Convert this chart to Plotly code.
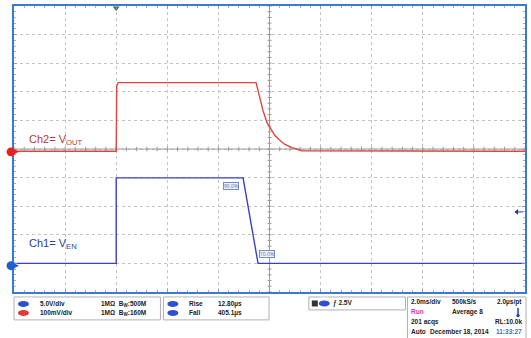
import numpy as np
import plotly.graph_objects as go

# screen units: x in divisions from left edge, y in divisions from centre
ch2_t = [0, 2.0, 2.01, 2.04, 4.737, 4.795, 4.873, 4.951, 5.029, 5.107, 5.185, 5.302, 5.439, 5.634, 10]
ch2_v = [-0.08, -0.08, 2.2, 2.32, 2.32, 1.86, 1.34, 0.92, 0.68, 0.47, 0.33, 0.16, 0.05, -0.06, -0.08]

ch1_t = [0, 2.0, 2.0, 4.483, 4.776, 10]
ch1_v = [-4.0, -4.0, -1.01, -1.01, -4.0, -4.0]

ch1_offset = -4.08
ch2_offset = -0.1
trig_pos = 2.0
trig_level = -2.2

ch_rows = [("5.0V/div", "1MΩ  B<sub>W</sub>:500M", "#2f4fd0"),
           ("100mV/div", "1MΩ  B<sub>W</sub>:160M", "#e03a3a")]
meas_rows = [("Rise", "12.80µs"), ("Fall", "405.1µs")]
acq_rows = [("2.0ms/div", "500kS/s", "2.0µs/pt"),
            ("Run", "Average 8", ""),
            ("201 acqs", "", "RL:10.0k"),
            ("Auto", "December 18, 2014", "11:33:27")]

W, H = 531, 338
L, R, T, B = 14, 527, 5, 292
RED = "#dc4540"
BLUE = "#3a3fc8"
FRAME = "#3a78dc"


def pxx(x):
    return (x - L) / (R - L)


def pxy(y):
    return (B - y) / (B - T)


def divy(v):
    # screen divisions -> paper y
    return (v + 5) / 10


fig = go.Figure()

# centre cross with tick marks
tx, ty = [0, 10, None, 5, 5, None], [0, 0, None, -5, 5, None]
for v in np.arange(0, 10.01, 0.2):
    tx += [v, v, None]
    ty += [-0.08, 0.08, None]
for v in np.arange(-5, 5.01, 0.2):
    tx += [4.96, 5.04, None]
    ty += [v, v, None]
fig.add_trace(go.Scatter(x=tx, y=ty, mode="lines", line=dict(color="#9a9a9a", width=1),
                         hoverinfo="skip", showlegend=False))

fig.add_trace(go.Scatter(x=ch2_t, y=ch2_v, mode="lines", line=dict(color=RED, width=1.4),
                         showlegend=False))
fig.add_trace(go.Scatter(x=ch1_t, y=ch1_v, mode="lines", line=dict(color=BLUE, width=1.4),
                         showlegend=False))

# channel ground markers (paper shapes so they sit over the frame)
for off, col in [(ch2_offset, "#e8201e"), (ch1_offset, "#1f5fd0")]:
    yc = divy(off)
    dy = 4.5 / (B - T)
    fig.add_shape(type="circle", xref="paper", yref="paper", x0=pxx(6.5), x1=pxx(15.5),
                  y0=yc - dy, y1=yc + dy, fillcolor=col, line=dict(width=0))
    fig.add_shape(type="path", xref="paper", yref="paper",
                  path="M %f %f L %f %f L %f %f Z" % (pxx(15), yc + 2 / (B - T), pxx(15), yc - 2 / (B - T),
                                                      pxx(19), yc),
                  fillcolor=col, line=dict(width=0))

# trigger position and level
fig.add_trace(go.Scatter(x=[trig_pos], y=[4.93], mode="markers",
                         marker=dict(size=6, symbol="triangle-down", color="#2c7a40"),
                         cliponaxis=False, showlegend=False))
fig.add_trace(go.Scatter(x=[9.84, 9.96], y=[trig_level, trig_level], mode="lines",
                         line=dict(color="#2a3a8a", width=1), showlegend=False))
fig.add_trace(go.Scatter(x=[9.84], y=[trig_level], mode="markers",
                         marker=dict(size=5, symbol="triangle-left", color="#2a3a8a"),
                         showlegend=False))

fig.add_annotation(x=0.25, y=0.3, text="Ch2= V<sub>OUT</sub>", showarrow=False, xanchor="left",
                   yanchor="middle", font=dict(size=11, color="#b83a34", family="Liberation Sans"))
fig.add_annotation(x=0.25, y=-3.33, text="Ch1= V<sub>EN</sub>", showarrow=False, xanchor="left",
                   yanchor="middle", font=dict(size=11, color="#2d3f94", family="Liberation Sans"))
for x, y, t in [(4.25, -1.31, "90.0%"), (4.95, -3.68, "10.0%")]:
    fig.add_annotation(x=x, y=y, text=t, showarrow=False, font=dict(size=5, color="#4a6aa0"),
                       bgcolor="#eef4ff", bordercolor="#6f8fc0", borderwidth=1, borderpad=0)

# status panels
box = dict(type="rect", xref="paper", yref="paper", line=dict(color="#b0b0b0", width=1),
           fillcolor="white", layer="below")
for x0, y0, x1, y1 in [(14, 297, 161, 320), (164, 297, 270, 320), (310, 297, 407, 310), (409, 297, 528, 340)]:
    fig.add_shape(x0=pxx(x0), y0=pxy(y0), x1=pxx(x1), y1=pxy(y1), **box)

fs = dict(size=6.5, color="#222222", family="Liberation Sans")


def txt(x, y, s, color=None, anchor="left"):
    if not s:
        return
    f = dict(fs)
    if color:
        f["color"] = color
    fig.add_annotation(x=pxx(x), y=pxy(y), xref="paper", yref="paper", text="<b>" + s + "</b>",
                       showarrow=False, xanchor=anchor, yanchor="middle", font=f)


def oval(x, y, color, label):
    fig.add_shape(type="circle", xref="paper", yref="paper", x0=pxx(x), x1=pxx(x + 11),
                  y0=pxy(y - 3), y1=pxy(y + 3), fillcolor=color, line=dict(width=0))
    fig.add_annotation(x=pxx(x + 5.5), y=pxy(y), xref="paper", yref="paper", text=label,
                       showarrow=False, font=dict(size=4.5, color="white"))


for i, (a, b, c) in enumerate(ch_rows):
    y = 304 + i * 9
    oval(18, y, c, "Ch%d" % (i + 1))
    txt(38, y, a)
    txt(99, y, b)
for i, (a, b) in enumerate(meas_rows):
    y = 304 + i * 9
    oval(168, y, "#2f4fd0", "Ch1")
    txt(188, y, a)
    txt(217, y, b)

fig.add_shape(type="rect", xref="paper", yref="paper", x0=pxx(313), x1=pxx(319),
              y0=pxy(300.5), y1=pxy(306.5), fillcolor="#333333", line=dict(width=0))
oval(320, 303.5, "#2f4fd0", "Ch1")
txt(332, 303.5, "ƒ 2.5V")

for i, (a, b, c) in enumerate(acq_rows):
    y = 302 + i * 10
    if i == 1:
        txt(411, y, a, color="#d040a0")
    else:
        txt(411, y, a)
    if i == 3:
        txt(430, y, b)
        txt(526, y, c, color="#4a70c0", anchor="right")
    else:
        txt(452, y, b)
        txt(526, y, c, anchor="right")
# thermometer icon
fig.add_shape(type="line", xref="paper", yref="paper", x0=pxx(520), x1=pxx(520),
              y0=pxy(308), y1=pxy(315), line=dict(color="#2040a0", width=1.5))
fig.add_shape(type="circle", xref="paper", yref="paper", x0=pxx(518.3), x1=pxx(521.7),
              y0=pxy(314), y1=pxy(317.4), fillcolor="#2040a0", line=dict(width=0))

axis = dict(showticklabels=False, showgrid=True, gridcolor="#c4c4c4", griddash="dot", gridwidth=1,
            zeroline=False, showline=True, linecolor=FRAME, linewidth=2, mirror="ticks",
            ticks="inside", ticklen=3, tickcolor="#9a9a9a", dtick=1,
            minor=dict(ticks="inside", ticklen=2, dtick=0.2, tickcolor="#b0b0b0", showgrid=False))
fig.update_xaxes(range=[0, 10], **axis)
fig.update_yaxes(range=[-5, 5], **axis)
fig.update_layout(width=W, height=H, margin=dict(l=L, r=W - R, t=T, b=H - B),
                  paper_bgcolor="white", plot_bgcolor="white", hovermode=False)

fig.write_html("out.html", config={"displayModeBar": False},
               post_script="document.body.style.margin='0';")
